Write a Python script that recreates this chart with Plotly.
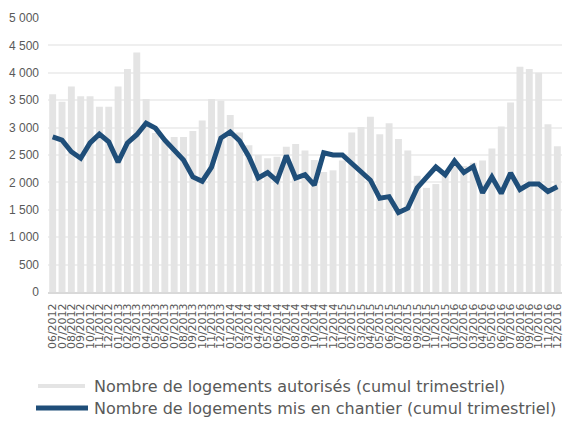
import plotly.graph_objects as go

months = [f"{m:02d}/{y}" for y in range(2012, 2017) for m in range(1, 13)]
categories = months[5:]  # 06/2012 .. 12/2016

autorises = [3610, 3470, 3750, 3570, 3570, 3380, 3380, 3750, 4070, 4370,
             3520, 2900, 2750, 2830, 2830, 2940, 3130, 3520, 3490, 3230,
             2910, 2680, 2500, 2440, 2470, 2650, 2700, 2580, 2410, 2190,
             2220, 2400, 2910, 3010, 3200, 2880, 3080, 2790, 2580, 2120,
             1900, 1970, 2200, 2350, 2300, 2360, 2400, 2620, 3020, 3460,
             4110, 4070, 4000, 3060, 2660]

chantier = [2830, 2770, 2560, 2440, 2720, 2880, 2740, 2370, 2720, 2870,
            3080, 2990, 2770, 2600, 2410, 2100, 2020, 2280, 2810, 2920,
            2760, 2470, 2080, 2180, 2030, 2490, 2080, 2140, 1950, 2540,
            2500, 2500, 2340, 2210, 2040, 1710, 1740, 1450, 1530, 1900,
            2090, 2280, 2140, 2390, 2180, 2290, 1810, 2100, 1800, 2170,
            1870, 1970, 1970, 1835, 1920]

yticks = [0, 500, 1000, 1500, 2000, 2500, 3000, 3500, 4000, 4500, 5000]
yticktext = ["0", "500", "1 000", "1 500", "2 000", "2 500", "3 000", "3 500", "4 000", "4 500", "5 000"]

legend_names = ["Nombre de logements autorisés (cumul trimestriel)",
                "Nombre de logements mis en chantier (cumul trimestriel)"]

bar_color = "#E4E4E4"
line_color = "#1F4E79"
text_color = "#595959"
font_family = "Liberation Sans, Arial, sans-serif"
wide_font = "DejaVu Sans, Liberation Sans, sans-serif"

fig = go.Figure()
fig.add_trace(go.Bar(x=categories, y=autorises, name=legend_names[0],
                     marker=dict(color=bar_color, line=dict(width=0))))
fig.add_trace(go.Scatter(x=categories, y=chantier, name=legend_names[1], mode="lines",
                         line=dict(color=line_color, width=5)))

# page body has an 8px margin: compensate so the plot area sits at x 48..562, y 18..292
fig.update_layout(
    width=565, height=417,
    margin=dict(l=40, r=11, t=10, b=133, autoexpand=False),
    paper_bgcolor="white", plot_bgcolor="white",
    bargap=0.26,
    showlegend=False,
    font=dict(family=font_family, color=text_color),
)
fig.update_xaxes(type="category", tickangle=-90,
                 tickfont=dict(size=11, color=text_color, family=wide_font),
                 tickmode="array", tickvals=categories, ticktext=categories,
                 ticklabelstandoff=5,
                 showgrid=False, showline=True, linecolor="#D9D9D9", linewidth=2,
                 ticks="", ticklen=0, automargin=False)
fig.update_yaxes(range=[0, 5000], tickvals=yticks, ticktext=yticktext,
                 tickfont=dict(size=12, color=text_color),
                 ticklabelstandoff=8,
                 showgrid=True, gridcolor="#EFEFEF", gridwidth=2,
                 zeroline=False, showline=False, ticks="", automargin=False)

H = 274.0
W = 514.0
def px_x(x):
    return (x - 48) / W
def px_y(y):
    return (292 - y) / H

row1 = 386
row2 = 408
fig.add_shape(type="rect", xref="paper", yref="paper",
              x0=px_x(38), x1=px_x(85), y0=px_y(row1 + 2), y1=px_y(row1 - 2),
              fillcolor=bar_color, line=dict(width=0))
fig.add_shape(type="line", xref="paper", yref="paper",
              x0=px_x(36), x1=px_x(88), y0=px_y(row2), y1=px_y(row2),
              line=dict(color=line_color, width=5))
fig.add_annotation(text=legend_names[0], xref="paper", yref="paper",
                   x=px_x(92), y=px_y(row1), xanchor="left", yanchor="middle",
                   showarrow=False, font=dict(size=16, color=text_color, family=wide_font))
fig.add_annotation(text=legend_names[1], xref="paper", yref="paper",
                   x=px_x(92), y=px_y(row2), xanchor="left", yanchor="middle",
                   showarrow=False, font=dict(size=16, color=text_color, family=wide_font))

fig.write_html("out.html")
